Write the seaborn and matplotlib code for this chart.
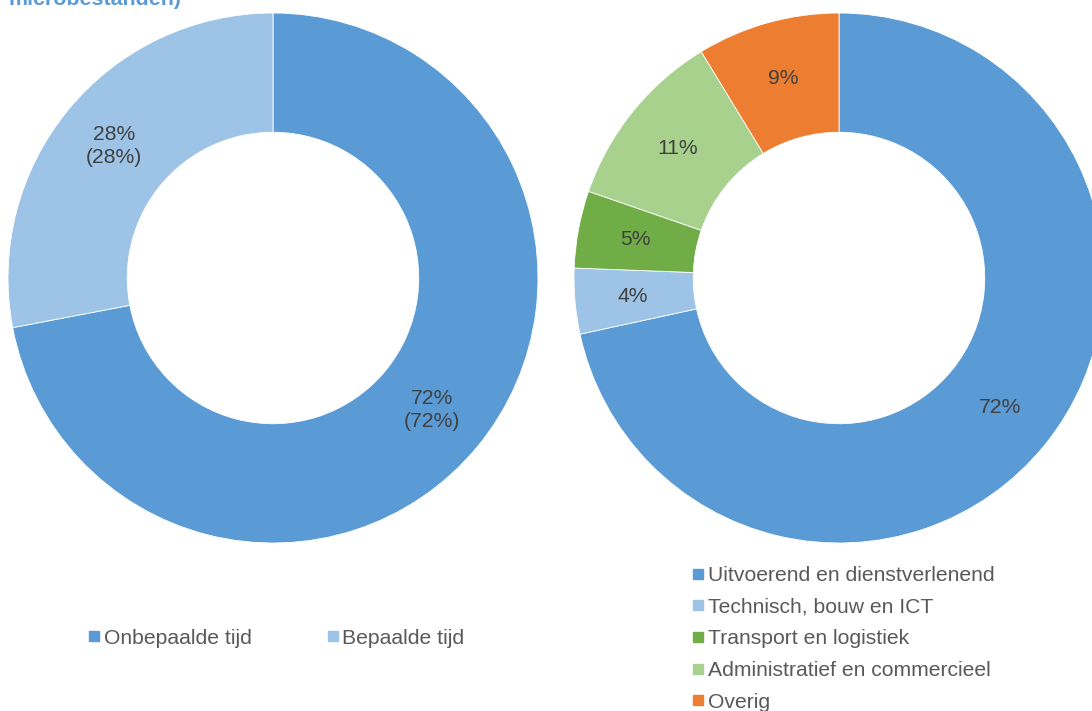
import matplotlib
matplotlib.use("Agg")
import matplotlib.pyplot as plt
from matplotlib.lines import Line2D
import seaborn as sns

# Data
contract_labels = ["Onbepaalde tijd", "Bepaalde tijd"]
contract_values = [72, 28]
contract_texts = ["72%\n(72%)", "28%\n(28%)"]

sector_labels = ["Uitvoerend en dienstverlenend", "Technisch, bouw en ICT",
                 "Transport en logistiek", "Administratief en commercieel", "Overig"]
sector_values = [71.6, 4.0, 4.7, 11.0, 8.7]
sector_texts = ["72%", "4%", "5%", "11%", "9%"]

title_text = "microbestanden)"

sns.set_theme(style="white")
plt.rcParams['font.family'] = ['Liberation Sans', 'DejaVu Sans']

contract_colors = ["#5B9BD5", "#9DC3E6"]
sector_colors = ["#5B9BD5", "#9DC3E6", "#70AD47", "#A9D18E", "#ED7D31"]

W, H = 1092, 711
fig = plt.figure(figsize=(W / 100, H / 100), dpi=100)
fig.patch.set_facecolor("white")

R = 265
FS = 15.2

def add_donut(cx, cy, values, colors, texts):
    ax = fig.add_axes([(cx - R) / W, (H - cy - R) / H, 2 * R / W, 2 * R / H])
    wedges, tx = ax.pie(values, colors=colors, startangle=90, counterclock=False,
                        radius=1.0, labels=texts, labeldistance=0.78,
                        wedgeprops=dict(width=0.45, edgecolor="white", linewidth=0.6),
                        textprops=dict(color="#404040", fontsize=FS, ha="center",
                                       va="center", linespacing=1.25))
    for t in tx:
        t.set_ha("center")
        t.set_va("center")
    ax.set_xlim(-1, 1)
    ax.set_ylim(-1, 1)
    ax.set_aspect("equal")
    ax.axis("off")
    return ax

add_donut(273, 278, contract_values, contract_colors, contract_texts)
add_donut(839, 278, sector_values, sector_colors, sector_texts)

fig.text(9 / W, 1 - 5 / H, title_text, color="#5B9BD5", fontsize=15.4,
         fontweight="bold", ha="left", va="baseline")

def handles(colors):
    return [Line2D([0], [0], marker="s", linestyle="none", markersize=7.5,
                   markerfacecolor=c, markeredgecolor=c) for c in colors]

leg1 = fig.legend(handles(contract_colors), contract_labels, ncol=2,
                  loc="center left", bbox_to_anchor=(88 / W, 1 - 638 / H),
                  frameon=False, fontsize=FS, handlelength=0.6,
                  handletextpad=0.15, columnspacing=3.55, borderpad=0,
                  borderaxespad=0)
for t in leg1.get_texts():
    t.set_color("#595959")

leg2 = fig.legend(handles(sector_colors), sector_labels, ncol=1,
                  loc="upper left", bbox_to_anchor=(692 / W, 1 - 566 / H),
                  frameon=False, fontsize=FS, handlelength=0.6,
                  handletextpad=0.15, labelspacing=0.6, borderpad=0,
                  borderaxespad=0)
for t in leg2.get_texts():
    t.set_color("#595959")

fig.savefig("out.png", dpi=100, facecolor="white")
